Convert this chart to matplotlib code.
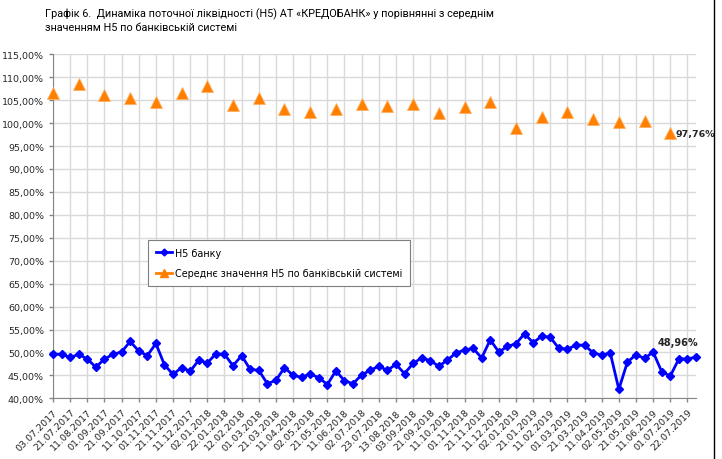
import numpy as np
import matplotlib.pyplot as plt
from matplotlib.lines import Line2D
from matplotlib.ticker import FuncFormatter, MultipleLocator

# x tick labels (every second category)
tick_labels = ["03.07.2017", "21.07.2017", "11.08.2017", "01.09.2017", "21.09.2017",
               "11.10.2017", "01.11.2017", "21.11.2017", "11.12.2017", "02.01.2018",
               "22.01.2018", "12.02.2018", "01.03.2018", "21.03.2018", "11.04.2018",
               "02.05.2018", "21.05.2018", "11.06.2018", "02.07.2018", "23.07.2018",
               "13.08.2018", "03.09.2018", "21.09.2018", "11.10.2018", "01.11.2018",
               "21.11.2018", "11.12.2018", "02.01.2019", "21.01.2019", "11.02.2019",
               "01.03.2019", "21.03.2019", "11.04.2019", "02.05.2019", "21.05.2019",
               "11.06.2019", "01.07.2019", "22.07.2019"]

# Н5 банку, %
h5_bank = [49.6, 49.6, 48.9, 49.6, 48.55, 46.8, 48.55, 49.6, 50.1, 52.4,
           50.3, 49.3, 51.95, 47.3, 45.2, 46.7, 45.9, 48.3, 47.7, 49.7,
           49.6, 47.1, 49.3, 46.3, 46.1, 43.2, 43.9, 46.7, 45.0, 44.6,
           45.3, 44.5, 43.0, 46.0, 43.8, 43.2, 45.1, 46.1, 47.0, 46.1,
           47.4, 45.4, 47.6, 48.8, 48.2, 47.0, 48.3, 49.9, 50.5, 50.9,
           48.8, 52.75, 50.1, 51.3, 51.9, 54.1, 52.1, 53.55, 53.3, 50.9,
           50.7, 51.6, 51.6, 49.9, 49.4, 49.9, 41.96, 47.9, 49.5, 48.7,
           50.1, 45.8, 44.85, 48.6, 48.6, 48.96]

# Середнє значення Н5 по банківській системі, % (every third category)
h5_system = [106.5, 108.5, 106.2, 105.5, 104.5, 106.6, 108.0, 104.0, 105.5, 103.0,
             102.4, 103.0, 104.1, 103.7, 104.2, 102.1, 103.5, 104.7, 99.0, 101.4,
             102.5, 100.9, 100.2, 100.55, 97.76]

title = ("Графік 6.  Динаміка поточної ліквідності (Н5) АТ «КРЕДОБАНК» у порівнянні з середнім\n"
         "значенням Н5 по банківській системі")

fig = plt.figure(figsize=(7.22, 4.6), dpi=100)
ax = fig.add_axes([53/722, 1-399.3/460, (696-53)/722, (399.3-55.3)/460])

x_bank = np.arange(len(h5_bank))
x_sys = np.arange(len(h5_system)) * 3

ax.plot(x_bank, h5_bank, color='#0000ff', lw=2, marker='D', ms=4.3,
        zorder=3, clip_on=False)
ax.plot(x_sys, h5_system, ls='none', marker='^', ms=8, color='#ff7f00',
        mec='#ffb060', mew=0.6, zorder=3, clip_on=False)

ax.set_xlim(0, len(h5_bank) - 1)
ax.set_ylim(40, 115)
ax.yaxis.set_major_locator(MultipleLocator(5))
ax.yaxis.set_major_formatter(FuncFormatter(lambda v, p: f"{v:.2f}".replace('.', ',') + '%'))
ax.set_xticks(np.arange(len(tick_labels)) * 2)
ax.set_xticklabels(tick_labels, rotation=45, ha='right', rotation_mode='anchor')

ax.grid(True, color='#d9d9d9', lw=1)
ax.set_axisbelow(True)
for s in ['top', 'right']:
    ax.spines[s].set_visible(False)
for s in ['left', 'bottom']:
    ax.spines[s].set_color('#868686')
ax.tick_params(axis='both', labelsize=6.8, colors='#868686', labelcolor='#262626',
               length=3, width=1)

# data labels
ax.annotate("48,96%", (x_bank[-1], h5_bank[-1]), xytext=(-13, 11),
            textcoords='offset points', ha='center', va='center',
            fontsize=7, fontweight='bold', color='#262626', annotation_clip=False)
ax.annotate("97,76%", (x_sys[-1], h5_system[-1]), xytext=(3.5, 0),
            textcoords='offset points', ha='left', va='center',
            fontsize=6.8, fontweight='bold', color='#262626', annotation_clip=False)

handles = [Line2D([], [], color='#0000ff', lw=2, marker='D', ms=3.5),
           Line2D([], [], color='#ff7f00', lw=2, marker='^', ms=6, mec='#ff7f00')]
labels = ['Н5 банку', 'Середнє значення Н5 по банківській системі']
leg = ax.legend(handles, labels, loc='upper left', bbox_to_anchor=(148/722, 1-241/460),
                bbox_transform=fig.transFigure, fontsize=6.9, frameon=True,
                fancybox=False, edgecolor='#7f7f7f', framealpha=1,
                handlelength=1.7, handletextpad=0.3, borderpad=0.8, labelspacing=1.1,
                borderaxespad=0)
leg.get_frame().set_linewidth(0.8)

fig.text(45/722, 1-8/460, title, ha='left', va='top', fontsize=7.8,
         family='Roboto', color='#000000', linespacing=1.4)

# chart frame line at the right edge
fig.add_artist(Line2D([714/722, 714/722], [0, 1], transform=fig.transFigure,
                      color='black', lw=1))

fig.savefig('out.png', dpi=100)
